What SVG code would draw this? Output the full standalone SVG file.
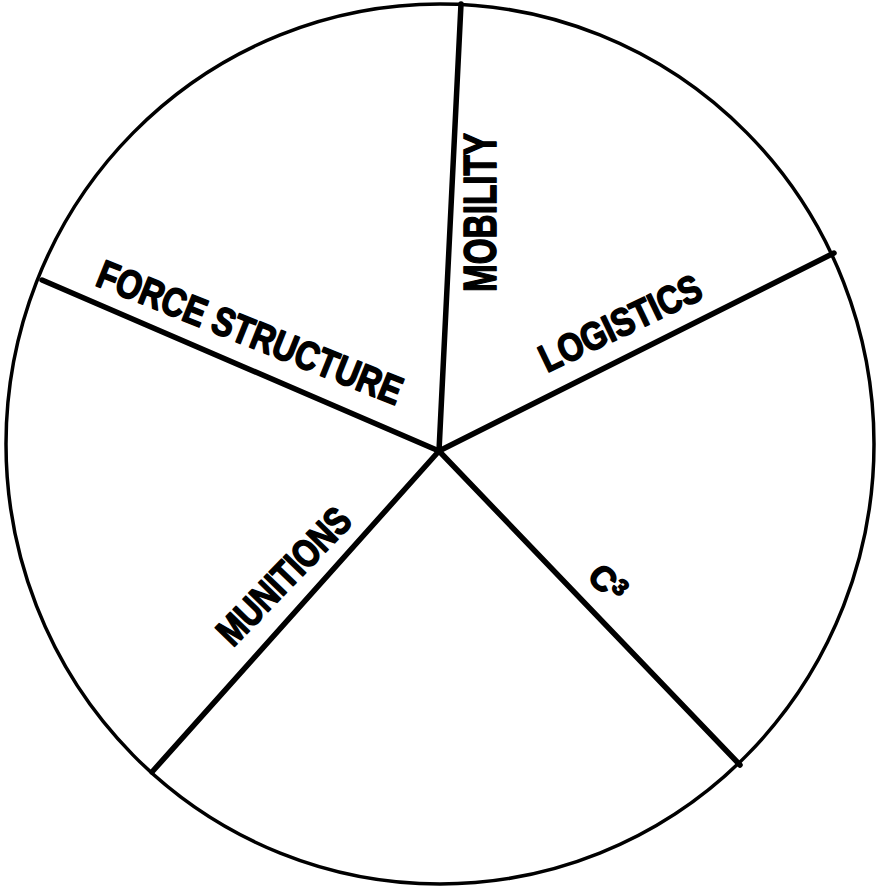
<svg xmlns="http://www.w3.org/2000/svg" width="877" height="893" viewBox="0 0 877 893">
<style>
.rim{fill:none;stroke:#000;stroke-width:3.5}
.spoke{stroke:#000;stroke-width:5.5;stroke-linecap:round}
.lbl{font-family:"Liberation Sans",Arial,sans-serif;font-weight:bold;fill:#000;stroke:#000;stroke-width:1.6;stroke-linejoin:round}
</style>
<rect width="877" height="893" fill="#fff"/>
<g id="circle"><ellipse class="rim" cx="440" cy="444" rx="434" ry="440"/></g>
<g id="connectors">
<line class="spoke" x1="439" y1="451" x2="461" y2="4"/>
<line class="spoke" x1="439" y1="451" x2="834" y2="253"/>
<line class="spoke" x1="439" y1="451" x2="740" y2="765"/>
<line class="spoke" x1="439" y1="451" x2="152" y2="772"/>
<line class="spoke" x1="439" y1="451" x2="42" y2="280"/>
</g>
<g id="mobility"><text class="lbl" font-size="46" transform="translate(496,292) rotate(-90)" textLength="159" lengthAdjust="spacingAndGlyphs">MOBILITY</text></g>
<g id="logistics"><text class="lbl" font-size="39" transform="translate(547,373) rotate(-25.5)" textLength="175" lengthAdjust="spacingAndGlyphs">LOGISTICS</text></g>
<g id="force-structure"><text class="lbl" font-size="40" transform="translate(94,285) rotate(21.8)" textLength="325" lengthAdjust="spacingAndGlyphs">FORCE STRUCTURE</text></g>
<g id="munitions"><text class="lbl" font-size="39" transform="translate(233,648) rotate(-46)" textLength="174" lengthAdjust="spacingAndGlyphs">MUNITIONS</text></g>
<g id="c3"><text class="lbl" font-size="34" transform="translate(586,578) rotate(45)">C<tspan font-size="23" dy="-10">3</tspan></text></g>
</svg>
